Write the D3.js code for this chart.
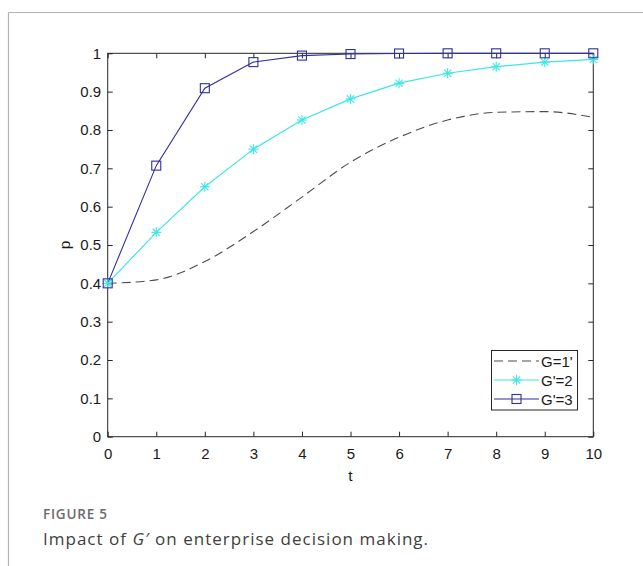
<!DOCTYPE html>
<html>
<head>
<meta charset="utf-8">
<script src="https://cdn.jsdelivr.net/npm/d3@7"></script>
<style>
  html, body { margin: 0; padding: 0; background: #fff; }
  svg { display: block; }
</style>
</head>
<body>
<svg id="chart" width="643" height="566"></svg>
<script>
// Time steps and probability of the decision p for each G' setting
const tValues = [0, 1, 2, 3, 4, 5, 6, 7, 8, 9, 10];
const seriesG1 = [0.400, 0.409, 0.457, 0.535, 0.625, 0.716, 0.781, 0.826, 0.846, 0.848, 0.833];
const seriesG2 = [0.400, 0.533, 0.652, 0.750, 0.826, 0.881, 0.922, 0.948, 0.965, 0.977, 0.984];
const seriesG3 = [0.400, 0.707, 0.909, 0.977, 0.994, 0.998, 0.9995, 1.000, 1.000, 1.000, 1.000];
const seriesNames = ["G=1'", "G'=2", "G'=3"];
const xTicks = [0, 1, 2, 3, 4, 5, 6, 7, 8, 9, 10];
const yTicks = [0, 0.1, 0.2, 0.3, 0.4, 0.5, 0.6, 0.7, 0.8, 0.9, 1];

const svg = d3.select("#chart");
const axisColor = "#262626";
const font = "'Liberation Sans', Arial, Helvetica, sans-serif";

// Page frame around the figure
svg.append("line").attr("x1", 8.5).attr("x2", 643).attr("y1", 12.5).attr("y2", 12.5)
  .attr("stroke", "#b4b4b4").attr("stroke-width", 1.2);
svg.append("line").attr("x1", 8.5).attr("x2", 8.5).attr("y1", 12.5).attr("y2", 566)
  .attr("stroke", "#b4b4b4").attr("stroke-width", 1.2);

const plot = { left: 107.7, right: 593.3, top: 53.3, bottom: 436.7 };
const x = d3.scaleLinear().domain([0, 10]).range([plot.left, plot.right]);
const y = d3.scaleLinear().domain([0, 1]).range([plot.bottom, plot.top]);

const g = svg.append("g");

// Axes with inward ticks on all four sides
function styleAxis(sel, showLabels) {
  sel.attr("font-family", font).attr("font-size", 15);
  sel.select(".domain").remove();
  sel.selectAll(".tick line").attr("stroke", axisColor).attr("stroke-width", 1);
  sel.selectAll(".tick text").attr("fill", showLabels ? "#1a1a1a" : "none");
}
g.append("g").attr("transform", `translate(0,${plot.bottom})`)
  .call(d3.axisBottom(x).tickValues(xTicks).tickSize(-5).tickPadding(11.5).tickFormat(d3.format("d")))
  .call(s => styleAxis(s, true));
g.append("g").attr("transform", `translate(0,${plot.top})`)
  .call(d3.axisTop(x).tickValues(xTicks).tickSize(-5).tickFormat(""))
  .call(s => styleAxis(s, false));
g.append("g").attr("transform", `translate(${plot.left},0)`)
  .call(d3.axisLeft(y).tickValues(yTicks).tickSize(-5).tickPadding(6.5)
    .tickFormat(d => d === 0 || d === 1 ? d3.format("d")(d) : d3.format(".1f")(d)))
  .call(s => styleAxis(s, true));
g.append("g").attr("transform", `translate(${plot.right},0)`)
  .call(d3.axisRight(y).tickValues(yTicks).tickSize(-5).tickFormat(""))
  .call(s => styleAxis(s, false));

g.append("rect").attr("x", plot.left).attr("y", plot.top)
  .attr("width", plot.right - plot.left).attr("height", plot.bottom - plot.top)
  .attr("fill", "none").attr("stroke", axisColor).attr("stroke-width", 1);

// Axis titles
g.append("text").attr("x", x(5)).attr("y", 481).attr("text-anchor", "middle")
  .attr("font-family", font).attr("font-size", 15.5).attr("fill", "#1a1a1a").text("t");
g.append("text").attr("transform", `translate(70,${y(0.5)}) rotate(-90)`).attr("text-anchor", "middle")
  .attr("font-family", font).attr("font-size", 15.5).attr("fill", "#1a1a1a").text("p");

const colG1 = "#4d4d4d", colG2 = "#3de6e6", colG3 = "#2f2f9f";

// Series lines
const pts = vals => tValues.map((t, i) => [t, vals[i]]);
const smooth = d3.line().x(d => x(d[0])).y(d => y(d[1])).curve(d3.curveMonotoneX);
const straight = d3.line().x(d => x(d[0])).y(d => y(d[1]));

g.append("path").attr("d", smooth(pts(seriesG1))).attr("fill", "none")
  .attr("stroke", colG1).attr("stroke-width", 1.1).attr("stroke-dasharray", "9,5");
g.append("path").attr("d", straight(pts(seriesG2))).attr("fill", "none")
  .attr("stroke", colG2).attr("stroke-width", 1.2);
g.append("path").attr("d", straight(pts(seriesG3))).attr("fill", "none")
  .attr("stroke", colG3).attr("stroke-width", 1.1);

// Marker shapes
function star(sel, cx, cy, r, col) {
  const a = sel.append("g").attr("transform", `translate(${cx},${cy})`).attr("stroke", col).attr("stroke-width", 1.1);
  a.append("line").attr("x1", -r).attr("x2", r).attr("y1", 0).attr("y2", 0);
  a.append("line").attr("x1", 0).attr("x2", 0).attr("y1", -r).attr("y2", r);
  const k = r * 0.72;
  a.append("line").attr("x1", -k).attr("x2", k).attr("y1", -k).attr("y2", k);
  a.append("line").attr("x1", -k).attr("x2", k).attr("y1", k).attr("y2", -k);
}
function square(sel, cx, cy, h, col) {
  sel.append("rect").attr("x", cx - h).attr("y", cy - h).attr("width", 2 * h).attr("height", 2 * h)
    .attr("fill", "none").attr("stroke", col).attr("stroke-width", 1.1);
}

pts(seriesG2).forEach(d => star(g, x(d[0]), y(d[1]), 5, colG2));
pts(seriesG3).forEach(d => square(g, x(d[0]), y(d[1]), 4.5, colG3));

// Legend
const lg = svg.append("g");
lg.append("rect").attr("x", 491.5).attr("y", 350.5).attr("width", 86).attr("height", 59.5)
  .attr("fill", "#fff").attr("stroke", axisColor).attr("stroke-width", 1);
const rows = [361, 380, 399];
const cols = [colG1, colG2, colG3];
rows.forEach((ry, i) => {
  const ln = lg.append("line").attr("x1", 494).attr("x2", 539).attr("y1", ry).attr("y2", ry)
    .attr("stroke", cols[i]).attr("stroke-width", i === 1 ? 1.2 : 1.1);
  if (i === 0) ln.attr("stroke-dasharray", "9,5");
  if (i === 1) star(lg, 516.5, ry, 5, colG2);
  if (i === 2) square(lg, 516.5, ry, 4.5, colG3);
  lg.append("text").attr("x", 541).attr("y", ry + 5.5).attr("font-family", font).attr("font-size", 15)
    .attr("fill", "#1a1a1a").text(seriesNames[i]);
});

// Caption, spaced out to its set line width
const cap = svg.append("g").attr("font-family", "'Open Sans', sans-serif");
function fitWidth(textSel, width) {
  const node = textSel.node();
  const n = node.getNumberOfChars();
  const extra = (width - node.getComputedTextLength()) / Math.max(1, n - 1);
  textSel.attr("letter-spacing", extra.toFixed(2));
}
const line1 = cap.append("text").attr("x", 43).attr("y", 519).attr("font-size", 13.5).attr("font-weight", 600)
  .attr("fill", "#6b6b6b").text("FIGURE 5");
fitWidth(line1, 64);
const line2 = cap.append("text").attr("x", 43).attr("y", 545).attr("font-size", 17).attr("fill", "#404040");
line2.append("tspan").text("Impact of ");
line2.append("tspan").attr("font-style", "italic").text("G′");
line2.append("tspan").text(" on enterprise decision making.");
fitWidth(line2, 385);
</script>
</body>
</html>
